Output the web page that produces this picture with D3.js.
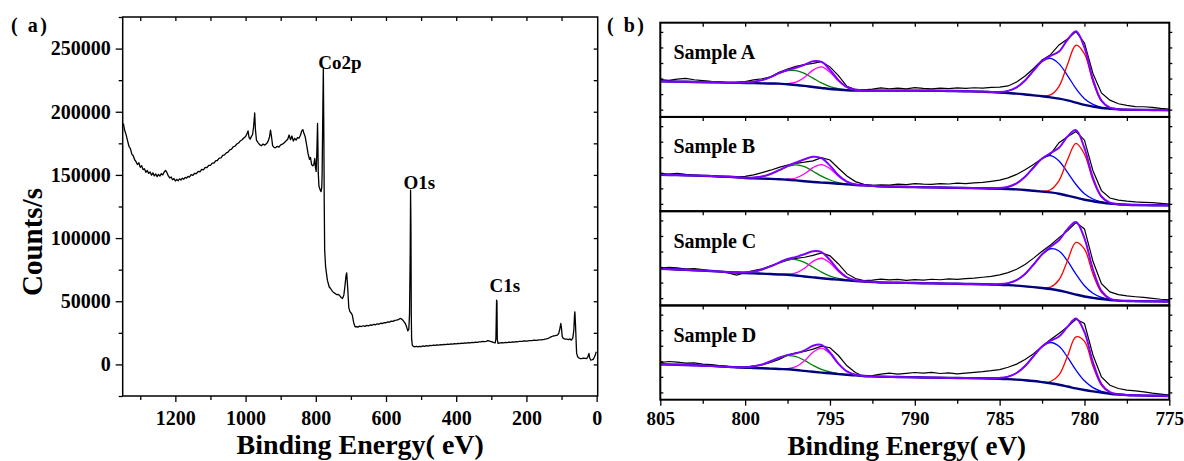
<!DOCTYPE html>
<html>
<head>
<meta charset="utf-8">
<script src="https://cdn.jsdelivr.net/npm/d3@7"></script>
<style>
  body { margin: 0; background: #fff; }
  svg { display: block; }
  text { font-family: "Liberation Serif", "Times New Roman", serif; font-weight: bold; fill: #000; }
</style>
</head>
<body>
<div id="container"></div>
<script>
/* DATA */
// (a) survey spectrum: [binding energy eV, counts/s]
const survey = [
  [1348,190700],[1345,186000],[1340,181500],[1336,177000],[1332,172500],[1328,170800],[1324,166500],[1320,165200],
  [1316,162000],[1312,160500],[1308,158200],[1304,159600],[1300,156000],[1296,157300],[1292,154200],[1288,154900],
  [1284,152100],[1280,153500],[1276,151200],[1272,152300],[1268,149800],[1264,151600],[1260,149200],[1256,150800],
  [1252,148600],[1248,150400],[1244,149100],[1240,151000],[1236,150000],[1232,152200],[1228,153600],[1224,151800],
  [1220,149200],[1216,147600],[1212,148400],[1208,146200],[1204,147100],[1200,145200],[1196,146500],[1192,145400],
  [1188,146900],[1184,146000],[1180,147400],[1176,146600],[1172,148100],[1168,147500],[1164,148900],[1160,148300],
  [1155,150200],[1150,149600],[1145,151300],[1140,151000],[1135,152800],[1130,152400],[1125,154300],[1120,154000],
  [1115,155900],[1110,155700],[1105,157600],[1100,157500],[1095,159300],[1090,159400],[1085,161200],[1080,161600],
  [1075,163300],[1070,163500],[1065,165400],[1060,165800],[1055,167500],[1050,168000],[1045,169900],[1040,170400],
  [1035,172300],[1030,172800],[1025,174500],[1020,175300],[1015,176900],[1010,177800],[1005,179200],[1000,180400],
  [996,182600],[993,184800],[990,179500],[987,178300],[984,180100],[980,182000],[977,188500],[974,199000],
  [972,186000],[969,177500],[965,175800],[960,174000],[955,173100],[950,174400],[945,173600],[940,174800],
  [936,176500],[932,179800],[929,185400],[926,180000],[923,173200],[919,171800],[915,171400],[910,172600],
  [905,172000],[900,173800],[895,174300],[890,175500],[885,176800],[880,178200],[876,181600],[872,177900],
  [868,180800],[864,176800],[860,178900],[856,177500],[852,179600],[848,179000],[844,181200],[840,184800],
  [837,185900],[834,183200],[830,180000],[826,173500],[822,166800],[818,162400],[815,163800],[812,158400],
  [809,157200],[806,157800],[803,163000],[801,156000],[799,152800],[797,168000],[795,190700],[794,175000],
  [793,152000],[791,141000],[789,139500],[787,137800],[785,136800],[783,140000],[782,150000],[780,200000],
  [778.5,234200],[777,180000],[776,130000],[774.7,90400],[772,77200],[767,66700],[762,61500],[758,60100],
  [753,58000],[748,56600],[744,56000],[740,55200],[736,55400],[732,54500],[728,53000],[724,52200],
  [720,55000],[717,62000],[714,70000],[712,72500],[709,60000],[706,45000],[703,42000],[699,40500],
  [696,39000],[692,33000],[688,29700],[684,29900],[680,29500],[675,30300],[670,30000],[665,30600],
  [660,30100],[655,30900],[650,30500],[645,31200],[640,31000],[635,31700],[630,31400],[625,32100],
  [620,31900],[615,32600],[610,32400],[605,33100],[600,33000],[595,33700],[590,33500],[585,34300],
  [580,34100],[575,34900],[570,35000],[565,35400],[560,36400],[556,36000],[552,35000],[548,33500],
  [545,32400],[541,29500],[538,26600],[535,28000],[533,40000],[531,90000],[530,137900],[529,110000],
  [528,40000],[527,20000],[525,15300],[522,14200],[518,13900],[514,14400],[510,13900],[505,14300],
  [500,14100],[495,14600],[490,14300],[485,14800],[480,14500],[475,15000],[470,14800],[465,15200],
  [460,15000],[455,15500],[450,15200],[445,15600],[440,15400],[435,15800],[430,15600],[425,16000],
  [420,15800],[415,16200],[410,16000],[405,16400],[400,16200],[395,16600],[390,16400],[385,16800],
  [380,16600],[375,17000],[370,16800],[365,17200],[360,17100],[355,17500],[350,17300],[345,17700],
  [340,17500],[335,17900],[330,17800],[325,18200],[320,18000],[315,18300],[310,18900],[305,18400],
  [300,18100],[296,17600],[292,17300],[289,17100],[287,20000],[285,50900],[284,50000],[283,20000],
  [281,16600],[278,16800],[275,17000],[270,17200],[265,17100],[260,17400],[255,17300],[250,17600],
  [245,17500],[240,17800],[235,17700],[230,18000],[227,17900],[220,18300],[213,18200],[206,18600],
  [199,18500],[192,18900],[185,18800],[178,19200],[171,19100],[164,19500],[157,19400],[150,19800],
  [143,20300],[136,20900],[130,21800],[124,22500],[118,22800],[112,23200],[108,24500],[105,28000],
  [102,32400],[100,28000],[98,22000],[95,20600],[90,20100],[85,20000],[80,19600],[76,20200],
  [72,19200],[68,20800],[65,27000],[63,39000],[62,41600],[60,30000],[58,15000],[57,8700],
  [54,6000],[50,5000],[47,4700],[43,4600],[38,4900],[33,4800],[28,4700],[25,6000],
  [22,8700],[20,5500],[17,3400],[14,3600],[10,4000],[7,5500],[4,7500],[1,10000]
];
const peakNames = ["Co2p", "O1s", "C1s"];
const peakEnergy = [779, 530, 285];
const peakCounts = [234200, 137900, 50900];

const xTicksA = [1200, 1000, 800, 600, 400, 200, 0];
const yTicksA = [0, 50000, 100000, 150000, 200000, 250000];

// (b) Co 2p high resolution spectra, intensity in a.u.
const rawE = [805,804.5,804,803.5,803,802.5,802,801.5,801,800.5,800,799.5,799,798.5,798,797.5,797,796.5,796,795.5,
  795,794.5,794,793.5,793,792.5,792,791.5,791,790.5,790,789.5,789,788.5,788,787.5,787,786.5,786,785.5,
  785,784.5,784,783.5,783,782.5,782,781.5,781,780.5,780,779.5,779,778.5,778,777.5,777,776.5,776,775.5,775];
const fitE = [805,804,803,802,801,800.5,800,799.5,799,798.5,798,797.5,797,796.5,796,795.5,795,794.5,794,793.5,793,792.5,
  792,791,790,789,788,787,786,785.5,785,784.5,784,783.5,783,782.5,782,781.5,781,780.5,780,779.5,779,778.5,778,777.5,777,776,775];
const lowE = [800.5,800,799.5,799,798.5,798,797.5,797,796.5,796,795.5,795,794.5,794,793.5,793,792.5];
const highE = [786,785.5,785,784.5,784,783.5,783,782.5,782,781.5,781,780.5,780,779.5,779,778.5,778,777.5,777];
const xTicksB = [805, 800, 795, 790, 785, 780, 775];
const samples = ["Sample A", "Sample B", "Sample C", "Sample D"];

const rawA = [37.3,36.6,37.9,38.6,37.2,36.4,35.6,35.1,34.2,34.6,35.4,37.1,38.2,40.1,44.6,47.8,50.6,52.4,53.5,55.4,
  50.1,41.3,30.6,27.5,27.1,27.8,29.0,28.2,28.9,28.1,29.3,28.5,28.0,28.8,28.3,29.1,28.6,29.2,28.8,29.6,
  29.9,31.0,35.0,41.0,48.5,57.0,62.3,72.0,78.0,85.3,74.0,43.5,24.0,16.8,13.2,11.5,10.4,10.2,9.6,8.6,7.9];
const bgA = [35.6,35.3,35.0,34.7,34.3,34.2,34.0,33.8,33.6,33.4,33.3,32.7,32.0,31.1,30.0,29.0,28.0,27.3,26.7,26.4,26.3,26.3,
  26.3,26.3,26.3,26.2,26.0,25.7,25.3,24.8,24.3,23.8,23.3,22.5,21.6,20.7,19.6,18.3,16.6,14.3,12.0,10.3,9.0,8.2,7.6,7.3,7.1,7.0,6.8];
const greenA = [0.1,0.5,1.4,3.2,6.5,10.4,13.6,14.4,12.5,8.8,5.0,2.3,0.9,0.3,0.1,0,0];
const magentaA = [0,0,0,0,0,0.1,0.6,2.8,8.6,16.8,21.0,16.8,8.6,2.8,0.6,0.1,0];
const blueA = [0,0.1,0.6,2.3,6.3,14.0,24.8,34.8,39.0,34.8,24.8,14.0,6.3,2.3,0.6,0.1,0,0,0];
const redA = [0,0,0,0,0,0,0,0.2,2.4,12.3,35.8,57.4,51.0,25.0,6.8,1.0,0.1,0,0];

const rawB = [37.5,37.0,37.8,36.9,36.2,35.6,35.1,34.5,34.0,34.3,34.9,36.4,38.5,41.0,43.8,46.2,47.9,49.0,50.4,53.6,
  51.2,43.0,35.2,29.6,26.8,25.9,26.4,26.0,27.1,26.5,27.6,27.0,26.8,27.5,27.2,28.0,27.6,28.3,28.8,29.9,
  31.1,33.3,36.8,41.5,46.8,52.6,57.0,68.5,74.5,79.6,71.0,40.5,20.6,13.2,11.0,10.1,9.4,8.9,8.5,7.8,7.2];
const bgB = [36.5,36.1,35.6,35.1,34.5,34.0,33.2,32.9,32.6,32.3,31.9,31.5,30.8,30.0,29.2,28.6,28.2,27.5,26.8,26.2,25.8,25.3,
  24.8,24.4,24.1,23.8,23.5,23.2,22.9,22.7,22.5,22.2,21.8,21.2,20.4,19.6,18.8,17.5,15.5,13.5,11.5,10.0,8.7,7.6,6.9,6.5,6.2,6.0,5.8];
const greenB = [0,0.2,0.7,2.1,4.9,9.0,13.2,15.5,14.5,10.8,6.4,3.0,1.1,0.3,0.1,0,0];
const magentaB = [0,0,0,0,0,0.1,0.5,2.4,7.4,14.4,18.0,14.4,7.4,2.4,0.5,0.1,0];
const blueB = [0,0.1,0.6,2.2,6.0,13.2,23.3,32.8,36.7,32.8,23.3,13.2,6.0,2.2,0.6,0.1,0,0,0];
const redB = [0,0,0,0,0,0,0,0.3,2.6,13.1,35.9,54.4,45.5,21.1,5.4,0.8,0.1,0,0];

const rawC = [37.4,38.1,37.6,36.4,36.9,35.8,34.6,33.9,32.6,30.4,32.9,34.8,36.6,39.7,42.6,45.3,47.0,48.2,50.1,52.6,
  49.6,41.5,31.8,26.9,24.8,25.4,26.3,25.6,26.0,25.1,25.9,25.3,26.2,25.7,26.5,26.0,26.9,27.3,28.2,29.0,
  30.6,32.8,36.2,41.0,47.3,54.2,60.5,67.8,74.6,82.9,76.5,44.2,21.8,13.6,10.8,9.5,8.7,8.0,7.1,6.2,5.6];
const bgC = [36.7,36.0,35.2,34.4,33.3,32.9,32.4,32.1,31.8,31.4,31.0,30.7,29.9,29.0,28.1,27.2,26.4,25.8,25.1,24.5,24.0,23.5,
  23.0,22.7,22.4,22.1,21.8,21.5,21.2,20.9,20.7,20.3,19.8,19.1,18.3,17.4,16.4,15.0,13.0,10.9,9.0,7.6,6.4,5.4,4.8,4.5,4.3,4.1,4.0];
const greenC = [0.2,0.7,1.8,4.1,7.6,11.8,15.1,15.9,14.0,10.1,6.1,3.0,1.2,0.4,0.1,0,0];
const magentaC = [0,0,0,0,0,0.1,0.6,2.7,8.2,16.0,20.0,16.0,8.2,2.7,0.6,0.1,0];
const blueC = [0,0.1,0.6,2.0,5.5,12.4,22.6,33.5,40.3,39.5,31.5,20.4,10.7,4.6,1.6,0.5,0.1,0,0];
const redC = [0,0,0,0,0,0,0,0.2,2.0,10.7,31.8,52.2,47.4,23.8,6.6,1.0,0.1,0,0];

const rawD = [37.0,38.2,37.6,36.5,36.9,35.6,35.0,34.1,33.3,32.0,32.6,33.8,34.9,37.2,40.3,44.6,46.8,48.2,50.6,53.6,
  52.0,44.2,33.9,27.2,23.0,24.0,25.5,26.5,25.6,26.4,27.2,26.5,27.3,26.2,26.8,25.9,26.6,27.4,28.1,29.0,
  30.1,32.4,35.6,40.1,46.0,53.2,60.1,66.2,73.0,80.4,76.2,44.7,22.8,14.4,11.2,9.6,8.9,7.8,6.6,5.6,4.7];
const bgD = [35.4,34.9,34.4,33.8,32.8,32.4,32.0,31.7,31.4,31.1,30.7,30.4,29.7,28.8,27.9,27.1,26.4,25.6,24.9,24.3,23.7,23.3,
  23.0,22.7,22.4,22.1,21.8,21.6,21.4,21.2,21.0,20.6,20.1,19.5,18.7,17.6,16.4,15.0,13.2,11.3,9.7,8.3,7.1,6.0,5.2,4.6,4.3,4.0,3.7];
const greenD = [0.1,0.5,1.6,3.8,7.3,11.2,13.7,13.4,10.5,6.5,3.2,1.3,0.4,0.1,0,0,0];
const magentaD = [0,0,0,0,0,0.1,0.7,3.3,10.1,19.6,24.5,19.6,10.1,3.3,0.7,0.1,0];
const blueD = [0,0.2,0.8,2.5,6.6,14.2,24.9,35.3,40.8,38.4,29.4,18.3,9.2,3.8,1.3,0.3,0.1,0,0];
const redD = [0,0,0,0,0,0,0,0.2,1.8,9.8,30.2,51.5,48.6,25.3,7.3,1.2,0.1,0,0];

/* SVG */
const width = 1184, height = 461;
const svg = d3.select("#container")
  .append("svg")
  .attr("width", width)
  .attr("height", height);

/* PANEL (a) */
const boxA = {left: 122.7, right: 597.7, top: 17, bottom: 396};

const xA = d3.scaleLinear().domain([1350, -3]).range([boxA.left, boxA.right]);
const yA = d3.scaleLinear().domain([-25000, 275000]).range([boxA.bottom, boxA.top]);

const styleTicks = (g, size) => {
  g.select(".domain").remove();
  g.selectAll("line").attr("stroke", "#000").attr("stroke-width", 1.3);
  g.selectAll("text").style("font-size", size + "px");
};

// minor ticks first, then majors
svg.append("g")
  .attr("transform", `translate(0, ${boxA.bottom})`)
  .call(d3.axisBottom(xA).tickValues([1300, 1100, 900, 700, 500, 300, 100]).tickSize(4).tickFormat(""))
  .call(g => styleTicks(g, 20));
svg.append("g")
  .attr("transform", `translate(0, ${boxA.bottom})`)
  .call(d3.axisBottom(xA).tickValues(xTicksA).tickSize(6).tickPadding(9).tickFormat(d3.format("d")))
  .call(g => styleTicks(g, 20));

svg.append("g")
  .attr("transform", `translate(${boxA.left}, 0)`)
  .call(d3.axisLeft(yA).tickValues([-25000, 25000, 75000, 125000, 175000, 225000, 275000]).tickSize(4).tickFormat(""))
  .call(g => styleTicks(g, 20));
svg.append("g")
  .attr("transform", `translate(${boxA.left}, 0)`)
  .call(d3.axisLeft(yA).tickValues(yTicksA).tickSize(7).tickPadding(5).tickFormat(d3.format("d")))
  .call(g => styleTicks(g, 20));

// inward ticks on top and right
svg.append("g")
  .attr("transform", `translate(0, ${boxA.top})`)
  .call(d3.axisTop(xA).tickValues([1300, 1200, 1100, 1000, 900, 800, 700, 600, 500, 400, 300, 200, 100]).tickSize(-4).tickFormat(""))
  .call(g => styleTicks(g, 20));
svg.append("g")
  .attr("transform", `translate(${boxA.right}, 0)`)
  .call(d3.axisRight(yA).tickValues([0, 25000, 50000, 75000, 100000, 125000, 150000, 175000, 200000, 225000, 250000]).tickSize(-4).tickFormat(""))
  .call(g => styleTicks(g, 20));

svg.append("rect")
  .attr("x", boxA.left).attr("y", boxA.top)
  .attr("width", boxA.right - boxA.left).attr("height", boxA.bottom - boxA.top)
  .attr("fill", "none").attr("stroke", "#000").attr("stroke-width", 1.5);

svg.append("path")
  .datum(survey)
  .attr("fill", "none")
  .attr("stroke", "#000")
  .attr("stroke-width", 1.3)
  .attr("stroke-linejoin", "round")
  .attr("d", d3.line().x(d => xA(d[0])).y(d => yA(d[1])));

const labelShift = [[-5, 0], [-7, -1], [-7, -8]];
svg.selectAll(".peak-label")
  .data(peakNames)
  .join("text")
  .attr("class", "peak-label")
  .attr("x", (d, i) => xA(peakEnergy[i]) + labelShift[i][0])
  .attr("y", (d, i) => yA(peakCounts[i]) + labelShift[i][1])
  .style("font-size", "19px")
  .text(d => d);

svg.append("text")
  .attr("transform", `translate(41.5, 242) rotate(-90)`)
  .attr("text-anchor", "middle")
  .style("font-size", "29px")
  .text("Counts/s");

svg.append("text")
  .attr("x", (boxA.left + boxA.right) / 2)
  .attr("y", 454)
  .attr("text-anchor", "middle")
  .style("font-size", "28px")
  .text("Binding Energy( eV)");

svg.append("text")
  .attr("x", 11).attr("y", 32)
  .style("font-size", "20px")
  .style("letter-spacing", "2.5px")
  .attr("xml:space", "preserve")
  .text("( a)");

/* PANEL (b) */
const boxB = {left: 660.3, right: 1169.3, top: 22.7, bottom: 399.7};
const panelH = (boxB.bottom - boxB.top) / 4;
const xB = d3.scaleLinear().domain([805, 775]).range([boxB.left, boxB.right]);

const colors = {raw: "#000", green: "#008000", magenta: "#ff00ff", blue: "#0000ff", red: "#ff0000", bg: "#000080", env: "#8000ff"};

const panels = [
  {raw: rawA, bg: bgA, green: greenA, magenta: magentaA, blue: blueA, red: redA},
  {raw: rawB, bg: bgB, green: greenB, magenta: magentaB, blue: blueB, red: redB},
  {raw: rawC, bg: bgC, green: greenC, magenta: magentaC, blue: blueC, red: redC},
  {raw: rawD, bg: bgD, green: greenD, magenta: magentaD, blue: blueD, red: redD}
];

const defs = svg.append("defs");

panels.forEach((p, i) => {
  const top = boxB.top + i * panelH;
  const y = d3.scaleLinear().domain([0, panelH]).range([top + panelH, top]);
  const g = svg.append("g");

  defs.append("clipPath").attr("id", "clip" + i)
    .append("rect")
    .attr("x", boxB.left).attr("y", top)
    .attr("width", boxB.right - boxB.left).attr("height", panelH);

  const plot = g.append("g").attr("clip-path", `url(#clip${i})`);

  const smooth = d3.line().x(d => xB(d[0])).y(d => y(d[1])).curve(d3.curveCatmullRom.alpha(0.5));
  const jag = d3.line().x(d => xB(d[0])).y(d => y(d[1]));

  const bgAt = new Map(fitE.map((e, k) => [e, p.bg[k]]));
  const envelope = fitE.map(e => {
    let v = bgAt.get(e);
    const li = lowE.indexOf(e);
    if (li >= 0) v += p.green[li] + p.magenta[li];
    const hi = highE.indexOf(e);
    if (hi >= 0) v += p.blue[hi] + p.red[hi];
    return [e, v];
  });

  // raw data
  plot.append("path")
    .datum(rawE.map((e, k) => [e, p.raw[k]]))
    .attr("fill", "none").attr("stroke", colors.raw).attr("stroke-width", 1.2)
    .attr("d", jag);

  // fitted components
  [["green", lowE], ["magenta", lowE], ["blue", highE], ["red", highE]].forEach(([key, grid]) => {
    plot.append("path")
      .datum(grid.map((e, k) => [e, bgAt.get(e) + p[key][k]]))
      .attr("fill", "none").attr("stroke", colors[key]).attr("stroke-width", 1.3)
      .attr("d", smooth);
  });

  // background
  plot.append("path")
    .datum(fitE.map((e, k) => [e, p.bg[k]]))
    .attr("fill", "none").attr("stroke", colors.bg).attr("stroke-width", 2.4)
    .attr("d", smooth);

  // envelope
  plot.append("path")
    .datum(envelope)
    .attr("fill", "none").attr("stroke", colors.env).attr("stroke-width", 2)
    .attr("d", smooth);

  // ticks
  g.append("g")
    .attr("transform", `translate(${boxB.left}, 0)`)
    .call(d3.axisLeft(y).tickValues(d3.range(7.3, panelH, 15.55)).tickSize(-3).tickFormat(""))
    .call(a => styleTicks(a, 19));
  g.append("g")
    .attr("transform", `translate(${boxB.right}, 0)`)
    .call(d3.axisRight(y).tickValues(d3.range(7.3, panelH, 15.55)).tickSize(3).tickFormat(""))
    .call(a => styleTicks(a, 19));
  g.append("g")
    .attr("transform", `translate(0, ${top})`)
    .call(d3.axisTop(xB).tickValues([802.5, 800, 797.5, 795, 792.5, 790, 787.5, 785, 782.5, 780, 777.5]).tickSize(-4).tickFormat(""))
    .call(a => styleTicks(a, 19));

  g.append("rect")
    .attr("x", boxB.left).attr("y", top)
    .attr("width", boxB.right - boxB.left).attr("height", panelH)
    .attr("fill", "none").attr("stroke", "#000").attr("stroke-width", 2);

  g.append("text")
    .attr("x", 673.5).attr("y", top + 36.5)
    .style("font-size", "20px")
    .text(samples[i]);
});

svg.append("g")
  .attr("transform", `translate(0, ${boxB.bottom})`)
  .call(d3.axisBottom(xB).tickValues([802.5, 797.5, 792.5, 787.5, 782.5, 777.5]).tickSize(4).tickFormat(""))
  .call(g => styleTicks(g, 19));
svg.append("g")
  .attr("transform", `translate(0, ${boxB.bottom})`)
  .call(d3.axisBottom(xB).tickValues(xTicksB).tickSize(6).tickPadding(6).tickFormat(d3.format("d")))
  .call(g => styleTicks(g, 19));

svg.append("text")
  .attr("x", (boxB.left + boxB.right) / 2 - 8)
  .attr("y", 455)
  .attr("text-anchor", "middle")
  .style("font-size", "27px")
  .text("Binding Energy( eV)");

svg.append("text")
  .attr("x", 607).attr("y", 32)
  .style("font-size", "20px")
  .style("letter-spacing", "2.5px")
  .attr("xml:space", "preserve")
  .text("( b)");
</script>
</body>
</html>
